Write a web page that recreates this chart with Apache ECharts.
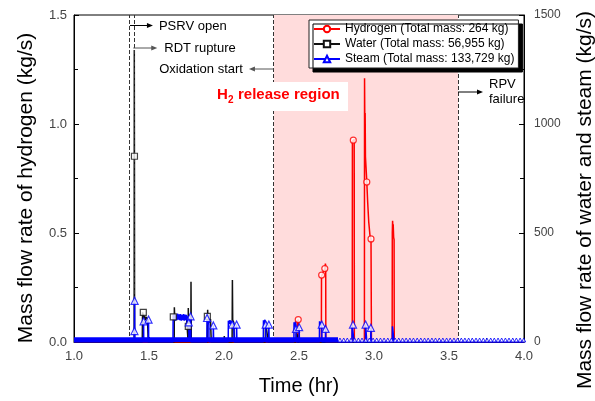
<!DOCTYPE html>
<html><head><meta charset="utf-8">
<script src="https://cdn.jsdelivr.net/npm/echarts@6/dist/echarts.min.js"></script>
<style>html,body{margin:0;padding:0;background:#fff}#c{width:595px;height:401px}</style>
</head><body><div id="c"></div>
<script>
// ---- data ----
const seriesNames = ['Hydrogen (Total mass: 264 kg)', 'Water (Total mass: 56,955 kg)', 'Steam (Total mass: 133,729 kg)'];
const xTicks = [1.0, 1.5, 2.0, 2.5, 3.0, 3.5, 4.0];
const h2Ticks = [0.0, 0.5, 1.0, 1.5];
const flowTicks = [0, 500, 1000, 1500];
// hydrogen mass flow (hr, kg/s)
const h2Data = [[1.0,0],[2.487,0],[2.489,0.09],[2.495,0.103],[2.5,0.095],[2.501,0],
 [2.649,0],[2.65,0.30],[2.655,0.31],[2.665,0.325],[2.672,0.337],[2.676,0.36],[2.678,0.35],[2.679,0],
 [2.855,0],[2.856,0.92],[2.862,0.926],[2.868,0.93],[2.869,0],
 [2.936,0],[2.937,1.21],[2.939,0.99],[2.941,1.05],[2.943,0.85],[2.947,0.80],[2.952,0.734],[2.958,0.64],[2.965,0.55],[2.973,0.49],[2.98,0.473],[2.983,0],
 [3.121,0],[3.122,0.50],[3.124,0.556],[3.126,0.52],[3.128,0.54],[3.131,0.48],[3.134,0.47],[3.135,0],[4.0,0]];
const h2Markers = [[2.495,0.103],[2.651,0.307],[2.672,0.337],[2.862,0.926],[2.952,0.734],[2.98,0.473]];
// water mass flow (hr, kg/s)
const waterData = [[1.0,0],[1.401,0],[1.402,1340],[1.403,852],[1.404,0],
 [1.455,0],[1.457,136],[1.462,130],[1.466,110],[1.47,120],[1.475,100],[1.48,115],[1.49,105],[1.495,0],
 [1.668,0],[1.669,159],[1.671,120],[1.69,112],[1.72,118],[1.75,110],[1.761,0],[1.762,156],[1.764,60],[1.767,95],[1.77,30],[1.773,80],[1.776,20],[1.779,0],[1.78,276],[1.782,0],
 [1.889,0],[1.891,148],[1.893,100],[1.9,90],[1.91,105],[1.915,0],
 [2.001,0],[2.002,27],[2.004,0],
 [2.054,0],[2.056,284],[2.058,100],[2.065,90],[2.07,0],
 [2.275,0],[2.277,95],[2.29,90],[2.295,0],
 [2.481,0],[2.482,40],[2.49,30],[2.492,0],[4.0,0]];
const waterMarkers = [[1.403,852],[1.462,136],[1.662,115],[1.762,72],[1.889,118]];
// steam mass flow (hr, kg/s)
const steamData = [[1.0,0],[1.402,0],[1.403,50],[1.404,189],[1.405,0],
 [1.463,0],[1.464,95],[1.465,0],[1.496,0],[1.497,103],[1.498,0],
 [1.660,0],[1.661,125],[1.665,100],[1.67,128],[1.675,98],[1.68,126],[1.685,100],[1.69,130],[1.695,102],[1.70,127],[1.705,100],[1.71,128],[1.715,98],[1.72,125],[1.725,100],[1.73,128],[1.735,98],[1.74,126],[1.745,100],[1.75,125],[1.755,95],[1.76,118],[1.765,90],[1.767,0],[1.776,0],[1.777,118],[1.779,0],
 [1.886,0],[1.887,110],[1.89,85],[1.893,112],[1.896,80],[1.899,105],[1.90,0],[1.928,0],[1.929,76],[1.931,0],
 [2.028,0],[2.029,98],[2.035,82],[2.04,100],[2.045,84],[2.05,96],[2.055,80],[2.06,92],[2.065,78],[2.068,0],[2.083,0],[2.084,80],[2.086,0],
 [2.262,0],[2.263,100],[2.268,85],[2.273,102],[2.278,80],[2.28,0],[2.298,0],[2.299,80],[2.301,0],
 [2.466,0],[2.467,90],[2.472,70],[2.477,95],[2.48,60],[2.482,0],[2.5,0],[2.501,68],[2.503,0],
 [2.636,0],[2.637,95],[2.642,75],[2.647,92],[2.652,80],[2.653,0],[2.676,0],[2.677,60],[2.679,0],
 [2.853,0],[2.854,78],[2.866,80],[2.868,0],
 [2.943,0],[2.944,80],[2.95,78],[2.952,0],[2.978,0],[2.979,65],[2.982,0],
 [3.122,0],[3.123,72],[3.131,70],[3.134,0],[4.0,0]];
const steamMarkers = [[1.404,189],[1.403,50],[1.464,95],[1.497,103],[1.777,118],[1.765,90],[1.887,110],[1.929,76],
 [2.055,80],[2.084,80],[2.278,80],[2.299,80],[2.48,60],[2.501,68],[2.652,80],[2.677,60],[2.86,80],[2.944,80],[2.979,65]];
// low steam flow band before 2.76 hr
const steamLowBand = [[1.0,22],[2.76,22]];
const steamZeroTimes = [2.773,2.798,2.822,2.847,2.871,2.896,2.920,2.945,2.969,2.994,3.018,3.043,3.067,3.092,3.116,3.141,3.165,3.190,3.214,3.239,3.263,3.288,3.312,3.337,3.361,3.386,3.410,3.435,3.459,3.484,3.508,3.533,3.557,3.582,3.606,3.631,3.655,3.680,3.704,3.729,3.753,3.778,3.802,3.827,3.851,3.876,3.900,3.925,3.949,3.974,3.998];
// events (hr)
const eventTimes = [1.373, 1.395, 2.333, 3.56];
const eventLabels = ['PSRV open', 'RDT rupture', 'Oxidation start', 'RPV failure'];
const releaseRegion = [2.333, 3.56];

const FONT = '"Liberation Sans", Arial, sans-serif';
const chart = echarts.init(document.getElementById('c'), null, {renderer: 'canvas'});
const tickStyle = {show: true, inside: true, length: 5, lineStyle: {color: '#000'}};
const minorStyle = {show: true, splitNumber: 2, length: 4, lineStyle: {color: '#000'}};

const option = {
  animation: false,
  textStyle: {fontFamily: FONT},
  grid: {left: 74, right: 71, top: 15, bottom: 55, show: true, borderColor: '#000', borderWidth: 1, backgroundColor: 'transparent'},
  legend: {
    data: seriesNames, orient: 'vertical', left: 309, top: 20, z: 20,
    itemWidth: 26, itemHeight: 8, itemGap: 3, padding: [3, 4, 3, 4],
    backgroundColor: '#fff', borderColor: '#222', borderWidth: 1,
    shadowColor: '#000', shadowOffsetX: 4, shadowOffsetY: 4, shadowBlur: 0,
    textStyle: {fontSize: 12, color: '#000', fontFamily: FONT}
  },
  xAxis: {
    type: 'value', min: xTicks[0], max: xTicks[xTicks.length - 1], interval: 0.5,
    axisLine: {lineStyle: {color: '#000'}}, axisTick: tickStyle, minorTick: minorStyle,
    splitLine: {show: false},
    axisLabel: {fontSize: 13, color: '#444', margin: 8, formatter: v => v.toFixed(1)},
    name: 'Time (hr)', nameLocation: 'middle', nameGap: 34,
    nameTextStyle: {fontSize: 20, color: '#000'}
  },
  yAxis: [{
    type: 'value', min: h2Ticks[0], max: h2Ticks[h2Ticks.length - 1], interval: 0.5,
    axisLine: {show: true, lineStyle: {color: '#000'}}, axisTick: tickStyle, minorTick: minorStyle,
    splitLine: {show: false},
    axisLabel: {fontSize: 13, color: '#444', margin: 7, formatter: v => v.toFixed(1)}
  }, {
    type: 'value', min: flowTicks[0], max: flowTicks[flowTicks.length - 1], interval: 500,
    position: 'right',
    axisLine: {show: true, lineStyle: {color: '#000'}}, axisTick: tickStyle, minorTick: minorStyle,
    splitLine: {show: false},
    axisLabel: {fontSize: 12, color: '#444', margin: 10, formatter: v => String(Math.round(v))}
  }],
  series: [
    {type: 'line', name: 'bg', data: [], z: 1, silent: true,
     markArea: {silent: true, itemStyle: {color: '#ffdcdc'}, data: [[{xAxis: releaseRegion[0]}, {xAxis: releaseRegion[1]}]]}},
    {type: 'line', name: seriesNames[0], data: h2Data, yAxisIndex: 0, symbol: 'emptyCircle', symbolSize: 6, showSymbol: false,
     lineStyle: {color: '#ff0000', width: 1.5}, itemStyle: {color: '#ff0000'}, z: 3},
    {type: 'line', name: seriesNames[1], data: waterData, yAxisIndex: 1, symbol: 'emptyRect', symbolSize: 6, showSymbol: false,
     lineStyle: {color: '#111', width: 1.5}, itemStyle: {color: '#111'}, z: 4},
    {type: 'line', name: 'steamBand', data: steamLowBand, yAxisIndex: 1, showSymbol: false, symbol: 'none',
     lineStyle: {width: 0}, areaStyle: {color: '#0000ff', opacity: 1}, z: 5, silent: true},
    {type: 'line', name: seriesNames[2], data: steamData, yAxisIndex: 1, symbol: 'emptyTriangle', symbolSize: 7, showSymbol: false,
     lineStyle: {color: '#0000ff', width: 1.5}, itemStyle: {color: '#0000ff'}, z: 5},
    {type: 'scatter', name: 'h2m', data: h2Markers, yAxisIndex: 0, symbol: 'circle', symbolSize: 6,
     itemStyle: {color: '#fff', borderColor: '#ff0000', borderWidth: 1.2}, z: 6, silent: true},
    {type: 'scatter', name: 'wm', data: waterMarkers, yAxisIndex: 1, symbol: 'rect', symbolSize: 6,
     itemStyle: {color: '#fff', borderColor: '#111', borderWidth: 1.2}, z: 6, silent: true},
    {type: 'scatter', name: 'sm', data: steamMarkers, yAxisIndex: 1, symbol: 'triangle', symbolSize: 7,
     itemStyle: {color: '#fff', borderColor: '#0000ff', borderWidth: 1.2}, z: 7, silent: true},
    {type: 'scatter', name: 'sz', data: steamZeroTimes.map(t => [t, 0]), yAxisIndex: 1, symbol: 'triangle', symbolSize: [4, 4], symbolOffset: [0, -2],
     itemStyle: {color: '#fff', borderColor: '#0000ff', borderWidth: 1}, z: 7, silent: true},
    {type: 'line', name: 'events', data: [], z: 8, silent: true,
     markLine: {silent: true, symbol: 'none', label: {show: false},
       lineStyle: {color: '#333', type: [4, 2], width: 1},
       data: eventTimes.map(t => ({xAxis: t}))}}
  ]
};
chart.setOption(option);

// ---- annotations ----
const px = t => chart.convertToPixel({xAxisIndex: 0}, t);
function arrow(x1, x2, y, color) {
  const dir = x2 > x1 ? 1 : -1;
  return [
    {type: 'line', shape: {x1: x1, y1: y, x2: x2 - dir * 4, y2: y}, style: {stroke: color, lineWidth: 1}, z: 100},
    {type: 'polygon', shape: {points: [[x2, y], [x2 - dir * 6, y - 2.5], [x2 - dir * 6, y + 2.5]]}, style: {fill: color}, z: 100}
  ];
}
const annFont = {fontSize: 13, fontFamily: FONT, fill: '#000'};
const ex = eventTimes.map(px);
const g = [];
g.push(...arrow(ex[0], ex[0] + 23, 25.5, '#000'));
g.push({type: 'text', x: ex[0] + 29, y: 26, style: Object.assign({text: eventLabels[0], verticalAlign: 'middle'}, annFont), z: 100});
g.push(...arrow(ex[1], ex[1] + 24, 48, '#555'));
g.push({type: 'text', x: ex[1] + 31, y: 48, style: Object.assign({text: eventLabels[1], verticalAlign: 'middle'}, annFont), z: 100});
g.push(...arrow(ex[2], ex[2] - 25, 69, '#555'));
g.push({type: 'text', x: ex[2] - 31, y: 69, style: Object.assign({text: eventLabels[2], align: 'right', verticalAlign: 'middle'}, annFont), z: 100});
g.push(...arrow(ex[3], ex[3] + 25, 92, '#000'));
g.push({type: 'text', x: ex[3] + 31, y: 84, style: Object.assign({text: 'RPV', verticalAlign: 'middle'}, annFont), z: 100});
g.push({type: 'text', x: ex[3] + 31, y: 99, style: Object.assign({text: 'failure', verticalAlign: 'middle'}, annFont), z: 100});
// H2 release region label
g.push({type: 'rect', shape: {x: 210, y: 82, width: 138, height: 29}, style: {fill: '#fff'}, z: 99});
const redBold = {fontFamily: FONT, fontWeight: 'bold', fill: '#ff0000'};
g.push({type: 'text', x: 217, y: 95, style: Object.assign({text: 'H', fontSize: 15, verticalAlign: 'middle'}, redBold), z: 100});
g.push({type: 'text', x: 228, y: 100, style: Object.assign({text: '2', fontSize: 10, verticalAlign: 'middle'}, redBold), z: 100});
g.push({type: 'text', x: 238, y: 95, style: Object.assign({text: 'release region', fontSize: 15, verticalAlign: 'middle'}, redBold), z: 100});
// y axis names
g.push({type: 'text', x: 26, y: 188, rotation: Math.PI / 2,
  style: {text: 'Mass flow rate of hydrogen (kg/s)', fontSize: 21, fontFamily: FONT, fill: '#000', align: 'center', verticalAlign: 'middle'}, z: 100});
g.push({type: 'text', x: 585, y: 200, rotation: Math.PI / 2,
  style: {text: 'Mass flow rate of water and steam (kg/s)', fontSize: 21, fontFamily: FONT, fill: '#000', align: 'center', verticalAlign: 'middle'}, z: 100});
chart.setOption({graphic: {elements: g}});
</script></body></html>
